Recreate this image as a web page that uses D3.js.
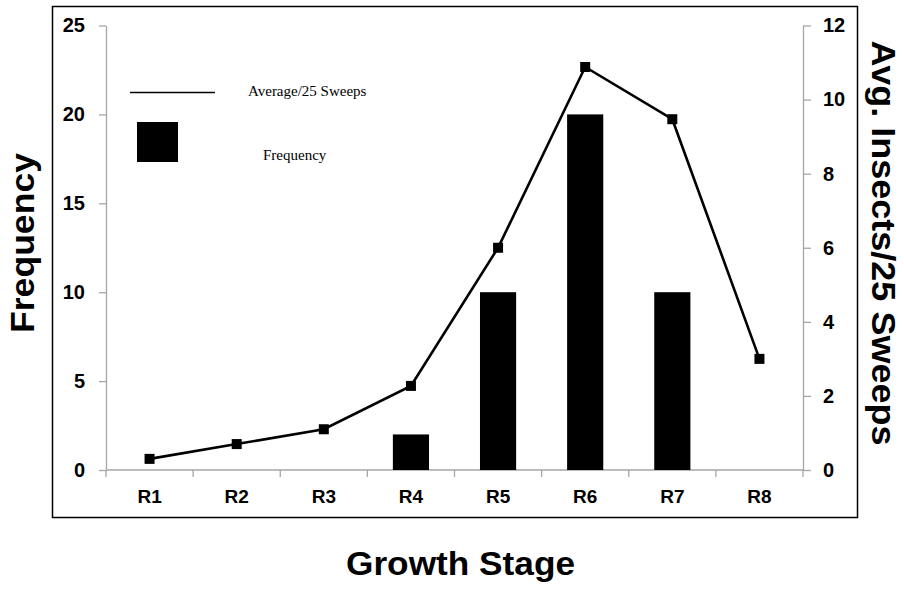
<!DOCTYPE html>
<html>
<head>
<meta charset="utf-8">
<script src="https://cdn.jsdelivr.net/npm/d3@7"></script>
<style>
  html, body { margin: 0; padding: 0; background: #fff; }
  svg { display: block; }
</style>
</head>
<body>
<svg id="chart" width="904" height="590"></svg>
<script>
// ---- data ----
const stages = ["R1", "R2", "R3", "R4", "R5", "R6", "R7", "R8"];
const frequency = [0, 0, 0, 2, 10, 20, 10, 0];
const avgInsects = [0.3, 0.7, 1.1, 2.27, 6.0, 10.88, 9.47, 3.0];
const leftTicks = [0, 5, 10, 15, 20, 25];
const rightTicks = [0, 2, 4, 6, 8, 10, 12];
const legendLabels = ["Average/25 Sweeps", "Frequency"];

// ---- layout ----
const svg = d3.select("#chart");
const plot = { left: 106, right: 803, top: 25.5, bottom: 470 };
const axisColor = "#a6a6a6";
const sansBold = "Arial, 'Liberation Sans', Helvetica, sans-serif";

svg.append("rect")
  .attr("x", 52.5).attr("y", 6.5).attr("width", 805).attr("height", 511)
  .attr("fill", "none").attr("stroke", "#000").attr("stroke-width", 1.5);

const x = d3.scaleBand().domain(stages).range([plot.left, plot.right]).padding(0);
const xb = d3.scaleBand().domain(stages).range([plot.left, plot.right])
  .paddingInner(0.585).paddingOuter(0.2925);
const yL = d3.scaleLinear().domain([0, 25]).range([plot.bottom, plot.top]);
const yR = d3.scaleLinear().domain([0, 12]).range([plot.bottom, plot.top]);

// left axis
const gL = svg.append("g").attr("transform", `translate(${plot.left},0)`)
  .call(d3.axisLeft(yL).tickValues(leftTicks).tickSize(7).tickSizeOuter(0).tickPadding(14));
// right axis
const gR = svg.append("g").attr("transform", `translate(${plot.right},0)`)
  .call(d3.axisRight(yR).tickValues(rightTicks).tickSize(8).tickSizeOuter(0).tickPadding(12));
[gL, gR].forEach(g => {
  g.select(".domain").attr("stroke", axisColor).attr("stroke-width", 1.3);
  g.selectAll(".tick line").attr("stroke", axisColor).attr("stroke-width", 1.3);
  g.selectAll(".tick text").attr("fill", "#000")
    .style("font-family", sansBold).style("font-weight", "bold").style("font-size", "20px");
});

// x axis
const gX = svg.append("g").attr("transform", `translate(0,${plot.bottom})`)
  .call(d3.axisBottom(x).tickSize(0).tickSizeOuter(0).tickPadding(20));
gX.select(".domain").remove();
gX.selectAll(".tick text").attr("fill", "#000")
  .style("font-family", sansBold).style("font-weight", "bold").style("font-size", "19px");
svg.append("line")
  .attr("x1", plot.left).attr("x2", plot.right)
  .attr("y1", plot.bottom).attr("y2", plot.bottom)
  .attr("stroke", axisColor).attr("stroke-width", 1.3);
const boundaries = stages.map(s => x(s)).concat([x(stages[stages.length - 1]) + x.step()]);
svg.append("g").selectAll("line").data(boundaries).join("line")
  .attr("x1", d => d).attr("x2", d => d)
  .attr("y1", plot.bottom).attr("y2", plot.bottom + 7)
  .attr("stroke", axisColor).attr("stroke-width", 1.3);

// bars
svg.append("g").selectAll("rect").data(stages.map((s, i) => ({ s, v: frequency[i] })).filter(d => d.v > 0))
  .join("rect")
  .attr("x", d => xb(d.s)).attr("width", xb.bandwidth())
  .attr("y", d => yL(d.v)).attr("height", d => yL(0) - yL(d.v))
  .attr("fill", "#000");

// line
const pts = stages.map((s, i) => ({ s, v: avgInsects[i] }));
const line = d3.line().x(d => x(d.s) + x.bandwidth() / 2).y(d => yR(d.v));
svg.append("path").datum(pts).attr("d", line)
  .attr("fill", "none").attr("stroke", "#000").attr("stroke-width", 2.6);
svg.append("g").selectAll("rect").data(pts).join("rect")
  .attr("x", d => x(d.s) + x.bandwidth() / 2 - 5).attr("y", d => yR(d.v) - 5)
  .attr("width", 10).attr("height", 10).attr("fill", "#000");

// legend
svg.append("line").attr("x1", 130).attr("x2", 215).attr("y1", 92.5).attr("y2", 92.5)
  .attr("stroke", "#000").attr("stroke-width", 1.5);
svg.append("rect").attr("x", 137).attr("y", 122).attr("width", 41).attr("height", 40).attr("fill", "#000");
svg.append("text").attr("x", 248).attr("y", 96).text(legendLabels[0])
  .style("font-family", "'Times New Roman', 'Liberation Serif', serif").style("font-size", "15px");
svg.append("text").attr("x", 263).attr("y", 160).text(legendLabels[1])
  .style("font-family", "'Times New Roman', 'Liberation Serif', serif").style("font-size", "15px");

// axis titles
svg.append("text").attr("transform", "translate(34,243) rotate(-90)")
  .attr("text-anchor", "middle").attr("textLength", 180).attr("lengthAdjust", "spacingAndGlyphs")
  .style("font-family", sansBold).style("font-weight", "bold").style("font-size", "33px")
  .text("Frequency");
svg.append("text").attr("x", 460.5).attr("y", 575)
  .attr("text-anchor", "middle").attr("textLength", 229).attr("lengthAdjust", "spacingAndGlyphs")
  .style("font-family", sansBold).style("font-weight", "bold").style("font-size", "33px")
  .text("Growth Stage");
svg.append("text").attr("transform", "translate(872,243) rotate(90)")
  .attr("text-anchor", "middle").attr("textLength", 405).attr("lengthAdjust", "spacingAndGlyphs")
  .style("font-family", sansBold).style("font-weight", "bold").style("font-size", "33px")
  .text("Avg. Insects/25 Sweeps");
</script>
</body>
</html>
